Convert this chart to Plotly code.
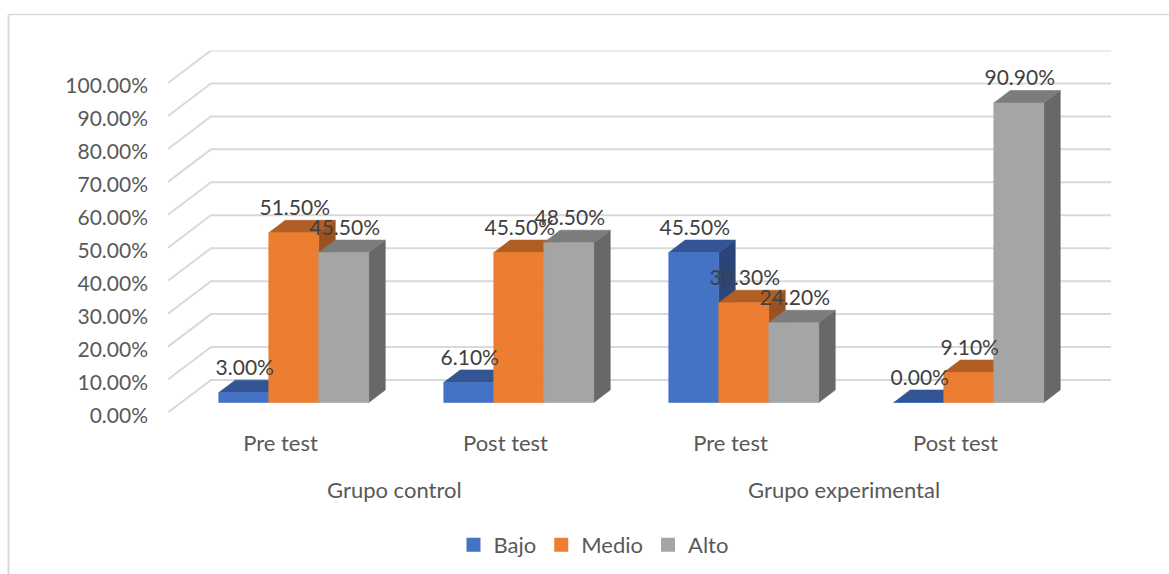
import plotly.graph_objects as go

# Survey results by group and test moment
categories = ["Pre test", "Post test", "Pre test", "Post test"]
groups = ["Grupo control", "Grupo experimental"]
group_spans = [(0, 1), (2, 3)]
bajo = [3.0, 6.1, 45.5, 0.0]
medio = [51.5, 45.5, 30.3, 9.1]
alto = [45.5, 48.5, 24.2, 90.9]
y_ticks = [0, 10, 20, 30, 40, 50, 60, 70, 80, 90, 100]

# Pixel geometry of the plot box
W, H = 1169, 574
LEFT, RIGHT, BOTTOM, TOP = 168, 1111, 412.5, 50.5
CAT_PX = 225.0
VAL_PX = 3.295

# Oblique projection: moving to the back wall shifts right and up
DEPTH_X = 43 / CAT_PX
DEPTH_Y = 32.5 / VAL_PX
BAR_W = 50 / CAT_PX
NEAR, FAR = 13.25 / 43, 29.75 / 43

FONT = "Lato"
TEXT_GREY = "#595959"
LABEL_GREY = "#404040"
GRID = "#D9D9D9"


def project(x, v, d):
    return x + d * DEPTH_X, v + d * DEPTH_Y


def polygon(points):
    xs, ys = zip(*[project(*p) for p in points])
    return list(xs) + [xs[0], None], list(ys) + [ys[0], None]


series = [
    ("Bajo", bajo, "#4472C4", "#335593", "#2A4679"),
    ("Medio", medio, "#ED7D31", "#B15E25", "#9A5120"),
    ("Alto", alto, "#A5A5A5", "#7C7C7C", "#686868"),
]

fig = go.Figure()

# Floor-to-wall gridlines
gx, gy = [], []
for t in y_ticks:
    for p in [(-0.5, t, 0), (-0.5, t, 1), (3.5, t, 1)]:
        x, y = project(*p)
        gx.append(x)
        gy.append(y)
    gx.append(None)
    gy.append(None)
fig.add_trace(go.Scatter(x=gx, y=gy, mode="lines", line=dict(color=GRID, width=2),
                         hoverinfo="skip", showlegend=False))


def add_face(xs, ys, color, edge):
    fig.add_trace(go.Scatter(x=xs, y=ys, mode="lines", fill="toself", fillcolor=color,
                             line=dict(color=edge, width=0.6), hoverinfo="skip",
                             showlegend=False))


for s, (name, values, front, top, side) in enumerate(series):
    fx, fy, tx, ty, sx, sy = [], [], [], [], [], []
    for c, v in enumerate(values):
        x0 = c + (s - 1.5) * BAR_W
        x1 = x0 + BAR_W
        a, b = polygon([(x1, 0, NEAR), (x1, 0, FAR), (x1, v, FAR), (x1, v, NEAR)])
        sx += a
        sy += b
        a, b = polygon([(x0, v, NEAR), (x1, v, NEAR), (x1, v, FAR), (x0, v, FAR)])
        tx += a
        ty += b
        a, b = polygon([(x0, 0, NEAR), (x1, 0, NEAR), (x1, v, NEAR), (x0, v, NEAR)])
        fx += a
        fy += b
    add_face(sx, sy, side, side)
    add_face(tx, ty, top, top)
    add_face(fx, fy, front, front)

# Value labels float above each bar's front top edge
lx, ly, lt = [], [], []
for s, (name, values, *_ ) in enumerate(series):
    for c, v in enumerate(values):
        x, y = project(c + (s - 1) * BAR_W + 1 / CAT_PX, v, NEAR)
        lx.append(x)
        ly.append(y + 23 / VAL_PX)
        lt.append(f"{v:.2f}%")
fig.add_trace(go.Scatter(x=lx, y=ly, mode="text", text=lt, textposition="middle center",
                         textfont=dict(family=FONT, size=21, color=LABEL_GREY),
                         hoverinfo="skip", showlegend=False, cliponaxis=False))

# Legend swatches
for name, values, front, *_ in series:
    fig.add_trace(go.Scatter(x=[None], y=[None], mode="markers", name=name,
                             marker=dict(symbol="square", size=14, color=front)))

annotations = [
    dict(text=g, x=sum(span) / 2, y=(H - 489) / H, xref="x", yref="paper", xshift=1,
         yanchor="middle", showarrow=False,
         font=dict(family=FONT, size=22, color=TEXT_GREY))
    for g, span in zip(groups, group_spans)
]

fig.update_layout(
    width=W, height=H,
    margin=dict(l=0, r=0, t=0, b=0, autoexpand=False),
    paper_bgcolor="white", plot_bgcolor="white",
    showlegend=True,
    legend=dict(orientation="h", x=0.5 + 9 / W, xanchor="center", y=(H - 545) / H, yanchor="middle",
                font=dict(family=FONT, size=22, color=TEXT_GREY), bgcolor="rgba(0,0,0,0)"),
    xaxis=dict(domain=[LEFT / W, RIGHT / W], range=[-0.5, 3.5 + DEPTH_X], tickmode="array",
               tickvals=[0, 1, 2, 3], ticktext=categories, showgrid=False, zeroline=False,
               showline=False, ticks="", ticklabelstandoff=15,
               tickfont=dict(family=FONT, size=22, color=TEXT_GREY)),
    yaxis=dict(domain=[(H - BOTTOM) / H, (H - TOP) / H], range=[0, (BOTTOM - TOP) / VAL_PX],
               tickmode="array", tickvals=y_ticks, ticktext=[f"{t:.2f}%" for t in y_ticks],
               showgrid=False, zeroline=False, showline=False, ticks="", ticklabelstandoff=19,
               ticklabelshift=3,
               tickfont=dict(family=FONT, size=21, color=TEXT_GREY)),
    annotations=annotations,
    shapes=[
        dict(type="line", xref="paper", yref="paper", x0=8.5 / W, x1=1, y0=(H - 14.5) / H, y1=(H - 14.5) / H,
             line=dict(color=GRID, width=1.5)),
        dict(type="line", xref="paper", yref="paper", x0=8.5 / W, x1=8.5 / W, y0=0, y1=(H - 14.5) / H,
             line=dict(color=GRID, width=2)),
    ],
)

fig.write_html("out.html")
